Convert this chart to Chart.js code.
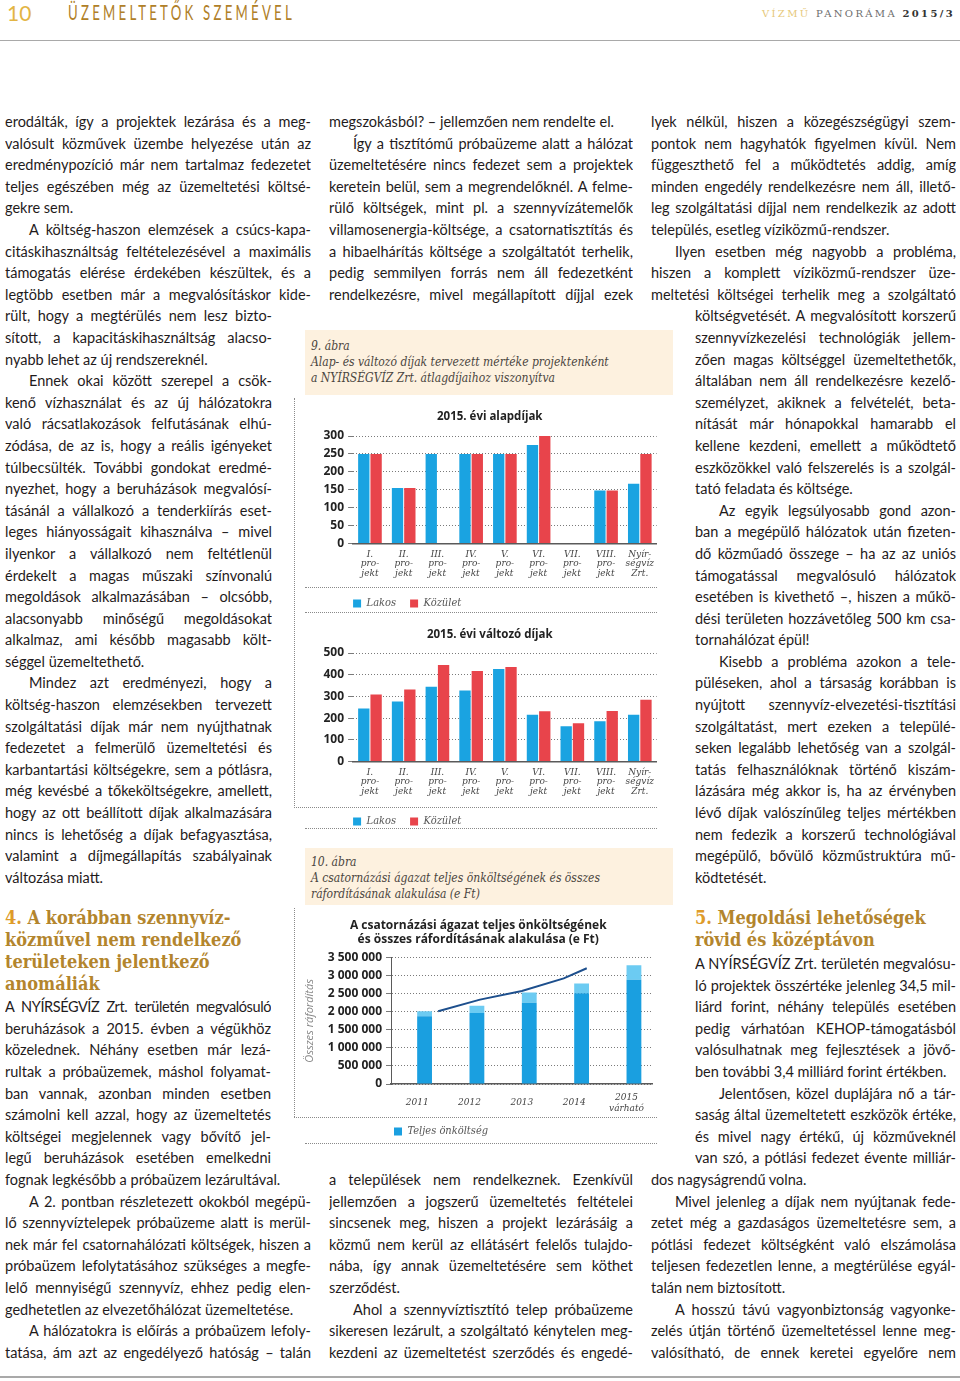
<!DOCTYPE html>
<html lang="hu">
<head>
<meta charset="utf-8">
<title>Üzemeltetők szemével – Vízmű Panoráma 2015/3</title>
<script src="https://cdn.jsdelivr.net/npm/chart.js@4.4.1/dist/chart.umd.min.js"></script>
<style>
  html, body { margin: 0; padding: 0; background: #fff; }
  body { position: relative; width: 960px; height: 1381px; overflow: hidden; }
  .col { position: absolute; font: 14.5px/21.6px Lato, "Open Sans", sans-serif; color: #1f1b1c; }
  .col div { height: 21.6px; overflow: hidden; text-align: justify; text-align-last: justify; }
  .col div.e { text-align-last: left; }
  .col div.i { text-indent: 24px; }
  .col div.t { letter-spacing: -0.4px; }
  .head { position: absolute; font: bold 18px/22px "DejaVu Serif", serif; font-stretch: condensed; color: #b3852d; white-space: nowrap; }
  .head b { color: #de9b2a; }
  .cap { position: absolute; background: #fdf1df; font: italic 12px/16px "DejaVu Serif Condensed", "DejaVu Serif", serif; color: #4a4540; padding-left: 6px; box-sizing: border-box; }
  .dotH { position: absolute; height: 0; border-top: 1px dotted #8a8a8a; }
  .dotV { position: absolute; width: 0; border-left: 1px dotted #8a8a8a; }
  .rule { position: absolute; left: 0; width: 960px; background: #a9a9a9; }
  .chart { position: absolute; overflow: hidden; }
  #hdr-num { position: absolute; left: 7px; top: 1px; font: 21px/24px Lato, sans-serif; color: #e3b544; }
  #hdr-title { position: absolute; left: 68px; top: 0; font: 22px/24px Lato, sans-serif; color: #b08028; white-space: nowrap; transform: scaleX(0.6); transform-origin: 0 0; }
  #hdr-mag { position: absolute; left: 762px; top: 8px; font: 10px/12px "DejaVu Serif", serif; white-space: nowrap; }
  #hdr-mag .v { color: #e6c879; }
  #hdr-mag .p { color: #6d6d6d; }
  #hdr-mag .y { color: #333; font-weight: bold; }
</style>
</head>
<body>

<!-- Page header -->
<div id="hdr-num">10</div>
<div id="hdr-title">ÜZEMELTETŐK SZEMÉVEL</div>
<div id="hdr-mag"><span class="v">VÍZMŰ</span> <span class="p">PANORÁMA</span> <span class="y">2015/3</span></div>
<div class="rule" style="top:40px;height:1px"></div>

<!-- Column 1 -->
<div class="col" style="left:5px;top:111px;width:306px">
  <div>erodálták, így a projektek lezárása és a meg-</div>
  <div>valósult közművek üzembe helyezése után az</div>
  <div>eredménypozíció már nem tartalmaz fedezetet</div>
  <div>teljes egészében még az üzemeltetési költsé-</div>
  <div class="e">gekre sem.</div>
  <div class="i">A költség-haszon elemzések a csúcs-kapa-</div>
  <div>citáskihasználtság feltételezésével a maximális</div>
  <div>támogatás elérése érdekében készültek, és a</div>
  <div>legtöbb esetben már a megvalósításkor kide-</div>
</div>
<div class="col" style="left:5px;top:305.4px;width:267px">
  <div>rült, hogy a megtérülés nem lesz bizto-</div>
  <div>sított, a kapacitáskihasználtság alacso-</div>
  <div class="e">nyabb lehet az új rendszereknél.</div>
  <div class="i">Ennek okai között szerepel a csök-</div>
  <div>kenő vízhasználat és az új hálózatokra</div>
  <div>való rácsatlakozások felfutásának elhú-</div>
  <div>zódása, de az is, hogy a reális igényeket</div>
  <div>túlbecsülték. További gondokat eredmé-</div>
  <div>nyezhet, hogy a beruházások megvalósí-</div>
  <div>tásánál a vállalkozó a tenderkiírás eset-</div>
  <div>leges hiányosságait kihasználva – mivel</div>
  <div>ilyenkor a vállalkozó nem feltétlenül</div>
  <div>érdekelt a magas műszaki színvonalú</div>
  <div>megoldások alkalmazásában – olcsóbb,</div>
  <div>alacsonyabb minőségű megoldásokat</div>
  <div>alkalmaz, ami később magasabb költ-</div>
  <div class="e">séggel üzemeltethető.</div>
  <div class="i">Mindez azt eredményezi, hogy a</div>
  <div>költség-haszon elemzésekben tervezett</div>
  <div>szolgáltatási díjak már nem nyújthatnak</div>
  <div>fedezetet a felmerülő üzemeltetési és</div>
  <div>karbantartási költségekre, sem a pótlásra,</div>
  <div>még kevésbé a tőkeköltségekre, amellett,</div>
  <div>hogy az ott beállított díjak alkalmazására</div>
  <div>nincs is lehetőség a díjak befagyasztása,</div>
  <div>valamint a díjmegállapítás szabályainak</div>
  <div class="e">változása miatt.</div>
</div>

<div class="head" style="left:5px;top:907px"><b>4.</b> A korábban szennyvíz-<br>közművel nem rendelkező<br>területeken jelentkező<br>anomáliák</div>

<div class="col" style="left:5px;top:996.2px;width:266px">
  <div class="t">A NYÍRSÉGVÍZ Zrt. területén megvalósuló</div>
  <div>beruházások a 2015. évben a végükhöz</div>
  <div>közelednek. Néhány esetben már lezá-</div>
  <div>rultak a próbaüzemek, máshol folyamat-</div>
  <div>ban vannak, azonban minden esetben</div>
  <div>számolni kell azzal, hogy az üzemeltetés</div>
  <div>költségei megjelennek vagy bővítő jel-</div>
  <div>legű beruházások esetében emelkedni</div>
  <div class="e" style="width:306px">fognak legkésőbb a próbaüzem lezárultával.</div>
</div>
<div class="col" style="left:5px;top:1190.6px;width:306px">
  <div class="i">A 2. pontban részletezett okokból megépü-</div>
  <div>lő szennyvíztelepek próbaüzeme alatt is merül-</div>
  <div>nek már fel csatornahálózati költségek, hiszen a</div>
  <div>próbaüzem lefolytatásához szükséges a megfe-</div>
  <div>lelő mennyiségű szennyvíz, ehhez pedig elen-</div>
  <div class="e">gedhetetlen az elvezetőhálózat üzemeltetése.</div>
  <div class="i">A hálózatokra is előírás a próbaüzem lefoly-</div>
  <div>tatása, ám azt az engedélyező hatóság – talán</div>
</div>

<!-- Column 2 -->
<div class="col" style="left:329px;top:111px;width:304px">
  <div class="e">megszokásból? – jellemzően nem rendelte el.</div>
  <div class="i">Így a tisztítómű próbaüzeme alatt a hálózat</div>
  <div>üzemeltetésére nincs fedezet sem a projektek</div>
  <div>keretein belül, sem a megrendelőknél. A felme-</div>
  <div>rülő költségek, mint pl. a szennyvízátemelők</div>
  <div>villamosenergia-költsége, a csatornatisztítás és</div>
  <div>a hibaelhárítás költsége a szolgáltatót terhelik,</div>
  <div>pedig semmilyen forrás nem áll fedezetként</div>
  <div>rendelkezésre, mivel megállapított díjjal ezek</div>
</div>
<div class="col" style="left:329px;top:1169px;width:304px">
  <div>a települések nem rendelkeznek. Ezenkívül</div>
  <div>jellemzően a jogszerű üzemeltetés feltételei</div>
  <div>sincsenek meg, hiszen a projekt lezárásáig a</div>
  <div>közmű nem kerül az ellátásért felelős tulajdo-</div>
  <div>nába, így annak üzemeltetésére sem köthet</div>
  <div class="e">szerződést.</div>
  <div class="i">Ahol a szennyvíztisztító telep próbaüzeme</div>
  <div>sikeresen lezárult, a szolgáltató kénytelen meg-</div>
  <div>kezdeni az üzemeltetést szerződés és engedé-</div>
</div>

<!-- Column 3 -->
<div class="col" style="left:651px;top:111px;width:305px">
  <div>lyek nélkül, hiszen a közegészségügyi szem-</div>
  <div>pontok nem hagyhatók figyelmen kívül. Nem</div>
  <div>függeszthető fel a működtetés addig, amíg</div>
  <div>minden engedély rendelkezésre nem áll, illető-</div>
  <div>leg szolgáltatási díjjal nem rendelkezik az adott</div>
  <div class="e">település, esetleg víziközmű-rendszer.</div>
  <div class="i">Ilyen esetben még nagyobb a probléma,</div>
  <div>hiszen a komplett víziközmű-rendszer üze-</div>
  <div>meltetési költségei terhelik meg a szolgáltató</div>
</div>
<div class="col" style="left:695px;top:305.4px;width:261px">
  <div>költségvetését. A megvalósított korszerű</div>
  <div>szennyvízkezelési technológiák jellem-</div>
  <div>zően magas költséggel üzemeltethetők,</div>
  <div>általában nem áll rendelkezésre kezelő-</div>
  <div>személyzet, akiknek a felvételét, beta-</div>
  <div>nítását már hónapokkal hamarabb el</div>
  <div>kellene kezdeni, emellett a működtető</div>
  <div>eszközökkel való felszerelés is a szolgál-</div>
  <div class="e">tató feladata és költsége.</div>
  <div class="i">Az egyik legsúlyosabb gond azon-</div>
  <div>ban a megépülő hálózatok után fizeten-</div>
  <div>dő közműadó összege – ha az az uniós</div>
  <div>támogatással megvalósuló hálózatok</div>
  <div>esetében is kivethető –, hiszen a műkö-</div>
  <div>dési területen hozzávetőleg 500 km csa-</div>
  <div class="e">tornahálózat épül!</div>
  <div class="i">Kisebb a probléma azokon a tele-</div>
  <div>püléseken, ahol a társaság korábban is</div>
  <div>nyújtott szennyvíz-elvezetési-tisztítási</div>
  <div>szolgáltatást, mert ezeken a települé-</div>
  <div>seken legalább lehetőség van a szolgál-</div>
  <div>tatás felhasználóknak történő kiszám-</div>
  <div>lázására még akkor is, ha az érvényben</div>
  <div>lévő díjak valószínűleg teljes mértékben</div>
  <div>nem fedezik a korszerű technológiával</div>
  <div>megépülő, bővülő közműstruktúra mű-</div>
  <div class="e">ködtetését.</div>
</div>

<div class="head" style="left:695px;top:907px"><b>5.</b> Megoldási lehetőségek<br>rövid és középtávon</div>

<div class="col" style="left:695px;top:953px;width:261px">
  <div>A NYÍRSÉGVÍZ Zrt. területén megvalósu-</div>
  <div>ló projektek összértéke jelenleg 34,5 mil-</div>
  <div>liárd forint, néhány település esetében</div>
  <div>pedig várhatóan KEHOP-támogatásból</div>
  <div>valósulhatnak meg fejlesztések a jövő-</div>
  <div class="e">ben további 3,4 milliárd forint értékben.</div>
  <div class="i">Jelentősen, közel duplájára nő a tár-</div>
  <div>saság által üzemeltetett eszközök értéke,</div>
  <div>és mivel nagy értékű, új közműveknél</div>
  <div>van szó, a pótlási fedezet évente milliár-</div>
</div>
<div class="col" style="left:651px;top:1169px;width:305px">
  <div class="e">dos nagyságrendű volna.</div>
  <div class="i">Mivel jelenleg a díjak nem nyújtanak fede-</div>
  <div>zetet még a gazdaságos üzemeltetésre sem, a</div>
  <div>pótlási fedezet költségként való elszámolása</div>
  <div>teljesen fedezetlen lenne, a megtérülése egyál-</div>
  <div class="e">talán nem biztosított.</div>
  <div class="i">A hosszú távú vagyonbiztonság vagyonke-</div>
  <div>zelés útján történő üzemeltetéssel lenne meg-</div>
  <div>valósítható, de ennek keretei egyelőre nem</div>
</div>

<!-- Figure 9 -->
<div class="cap" style="left:305px;top:330px;width:368px;height:65px;padding-top:8px">9. ábra<br>Alap- és változó díjak tervezett mértéke projektenként<br>a NYÍRSÉGVÍZ Zrt. átlagdíjaihoz viszonyítva</div>
<div class="dotV" style="left:294px;top:398px;height:410px"></div>
<div class="chart" style="left:305px;top:400px;width:352px;height:219px"><canvas id="alapChart" width="355" height="219"></canvas></div>
<div class="dotH" style="left:305px;top:587px;width:352px"></div>
<div class="dotH" style="left:305px;top:612px;width:352px"></div>
<div class="chart" style="left:305px;top:619px;width:352px;height:218px"><canvas id="valtozoChart" width="355" height="218"></canvas></div>
<div class="dotH" style="left:294px;top:807px;width:363px"></div>
<div class="dotH" style="left:305px;top:828px;width:352px"></div>

<!-- Figure 10 -->
<div class="cap" style="left:305px;top:848px;width:368px;height:57px;padding-top:6px">10. ábra<br>A csatornázási ágazat teljes önköltségének és összes<br>ráfordításának alakulása (e Ft)</div>
<div class="dotV" style="left:294px;top:908px;height:209px"></div>
<div class="chart" style="left:295px;top:906px;width:362px;height:241px"><canvas id="koltsegChart" width="362" height="241"></canvas></div>
<div class="dotH" style="left:294px;top:1117px;width:363px"></div>
<div class="dotH" style="left:305px;top:1143px;width:352px"></div>

<div class="rule" style="top:1376px;height:2px"></div>

<script>
// Chart data
const projects = [
    ['I.', 'pro-', 'jekt'], ['II.', 'pro-', 'jekt'], ['III.', 'pro-', 'jekt'],
    ['IV.', 'pro-', 'jekt'], ['V.', 'pro-', 'jekt'], ['VI.', 'pro-', 'jekt'],
    ['VII.', 'pro-', 'jekt'], ['VIII.', 'pro-', 'jekt'], ['Nyír-', 'ségvíz', 'Zrt.']
];
const alapLakos = [250, 155, 250, 250, 250, 275, null, 148, 167];
const alapKozulet = [250, 155, null, 250, 250, 300, null, 148, 250];
const valtozoLakos = [244, 276, 345, 327, 426, 215, 162, 186, 215];
const valtozoKozulet = [309, 332, 445, 417, 436, 232, 176, 233, 285];

const years = [['2011'], ['2012'], ['2013'], ['2014'], ['2015', 'várható']];
const onkoltseg = [1880000, 1970000, 2250000, 2520000, 2890000];
const osszesRaforditas = [2020000, 2170000, 2540000, 2790000, 3290000];
// trend line: position on the year axis (0 = 2011) and value
const trendPos = [0, 1, 2, 3, 3.55];
const trendValues = [2020000, 2340000, 2580000, 2930000, 3210000];

const lakosColor = '#1aa3e1';
const kozuletColor = '#e8444b';
const serif = "'DejaVu Serif Condensed', 'DejaVu Serif', serif";
const sans = "'Open Sans', sans-serif";

// Spread header text to the measured width
function fitWidth(el, target, scale = 1) {
    const w = el.getBoundingClientRect().width;
    const n = el.textContent.length;
    el.style.letterSpacing = ((target - w) / (n * scale)) + 'px';
}

// Start the legend at the left edge of the plot area
const legendAtPlotLeft = {
    id: 'legendAtPlotLeft',
    afterLayout(chart) {
        const legend = chart.legend;
        const pad = legend.options.labels.padding;
        legend.left -= pad;
        legend.right -= pad;
    }
};

// Fee chart (9. ábra)
function feeChart(id, title, lakos, kozulet, yMax, yStep, padTop, titleGap) {
    return new Chart(document.getElementById(id), {
        type: 'bar',
        data: {
            labels: projects,
            datasets: [
                { label: 'Lakos', data: lakos, backgroundColor: lakosColor, categoryPercentage: 0.73, barPercentage: 0.92 },
                { label: 'Közület', data: kozulet, backgroundColor: kozuletColor, categoryPercentage: 0.73, barPercentage: 0.92 }
            ]
        },
        options: {
            responsive: false,
            animation: false,
            layout: { padding: { left: 14.5, right: 0, top: padTop, bottom: 0 } },
            plugins: {
                title: {
                    display: true,
                    text: title,
                    color: '#222',
                    font: { family: sans, weight: 'bold', size: 11.5 },
                    padding: { top: 0, bottom: titleGap }
                },
                legend: {
                    position: 'bottom',
                    align: 'start',
                    fullSize: false,
                    labels: {
                        boxWidth: 8, boxHeight: 8, padding: 14, color: '#555',
                        font: { family: serif, style: 'italic', size: 11 }
                    }
                },
                tooltip: { enabled: false }
            },
            scales: {
                x: {
                    grid: { display: false, drawTicks: false },
                    border: { display: true, color: '#5a5a5a', width: 1.5 },
                    ticks: {
                        color: '#444', maxRotation: 0, autoSkip: false, padding: 6,
                        font: { family: serif, style: 'italic', size: 10, lineHeight: 0.95 }
                    }
                },
                y: {
                    min: 0,
                    max: yMax,
                    ticks: {
                        stepSize: yStep, autoSkip: false, color: '#222', padding: 4,
                        font: { family: sans, weight: 'bold', size: 12 }
                    },
                    grid: { color: '#7a7a7a', tickLength: 5 },
                    border: { display: false, dash: [1, 2] }
                }
            }
        },
        plugins: [legendAtPlotLeft]
    });
}

// Cost chart (10. ábra)
function costChart() {
    const extra = osszesRaforditas.map((v, i) => v - onkoltseg[i]);
    const trend = trendPos.map((x, i) => ({ x, y: trendValues[i] }));

    new Chart(document.getElementById('koltsegChart'), {
        type: 'bar',
        data: {
            labels: years,
            datasets: [
                {
                    type: 'line', label: 'Összes ráfordítás', data: trend, xAxisID: 'xt',
                    borderColor: '#1d4f8d', borderWidth: 2, pointRadius: 0, order: 0, stack: 'trend'
                },
                { label: 'Teljes önköltség', data: onkoltseg, backgroundColor: '#1a9fe0', order: 1, stack: 'cost', categoryPercentage: 0.566, barPercentage: 1 },
                { label: 'Ráfordítás többlet', data: extra, backgroundColor: '#6ccbf2', order: 1, stack: 'cost', categoryPercentage: 0.566, barPercentage: 1 }
            ]
        },
        options: {
            responsive: false,
            animation: false,
            layout: { padding: { left: 4.5, right: 0, top: 12, bottom: 0 } },
            plugins: {
                title: {
                    display: true,
                    text: ['A csatornázási ágazat teljes önköltségének', 'és összes ráfordításának alakulása (e Ft)'],
                    color: '#222',
                    font: { family: sans, weight: 'bold', size: 12 },
                    padding: { top: 0, bottom: 11 }
                },
                legend: {
                    position: 'bottom',
                    align: 'start',
                    fullSize: false,
                    labels: {
                        boxWidth: 8, boxHeight: 8, padding: 3, color: '#555',
                        font: { family: serif, style: 'italic', size: 11 },
                        filter: (item) => item.text === 'Teljes önköltség'
                    }
                },
                tooltip: { enabled: false }
            },
            scales: {
                x: {
                    stacked: true,
                    grid: { display: false, drawTicks: false },
                    border: { display: true, color: '#5a5a5a', width: 1.5 },
                    afterFit: (scale) => { scale.height -= 9; },
                    ticks: {
                        color: '#444', maxRotation: 0, autoSkip: false, padding: 13, crossAlign: 'center',
                        font: { family: serif, style: 'italic', size: 10, lineHeight: 1.1 }
                    }
                },
                xt: { type: 'linear', min: -0.5, max: 4.5, display: false },
                y: {
                    stacked: true,
                    min: 0,
                    max: 3500000,
                    afterFit: (scale) => { scale.width = 91.5; },
                    title: {
                        display: true, text: 'Összes ráfordítás', color: '#888',
                        font: { family: sans, style: 'italic', size: 11 },
                        padding: { top: 4, bottom: 0 }
                    },
                    ticks: {
                        stepSize: 500000, autoSkip: false, color: '#222', padding: 4,
                        font: { family: sans, weight: 'bold', size: 12 },
                        callback: (v) => String(v).replace(/\B(?=(\d{3})+(?!\d))/g, ' ')
                    },
                    grid: { color: '#7a7a7a', tickLength: 5 },
                    border: { display: true, color: '#5a5a5a', width: 1, dash: [1, 2] }
                }
            }
        }
    });
}

fitWidth(document.getElementById('hdr-title'), 227, 0.6);
fitWidth(document.getElementById('hdr-mag'), 193);

feeChart('alapChart', '2015. évi alapdíjak', alapLakos, alapKozulet, 300, 50, 10, 12.2);
feeChart('valtozoChart', '2015. évi változó díjak', valtozoLakos, valtozoKozulet, 500, 100, 9, 11.2);
costChart();
</script>
</body>
</html>
